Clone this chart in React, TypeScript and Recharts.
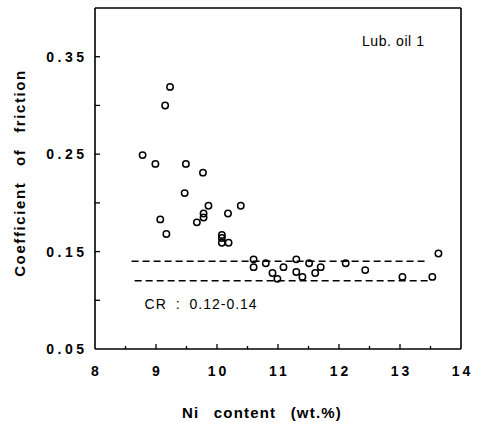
import React from 'react';
import {
  ScatterChart,
  Scatter,
  XAxis,
  YAxis,
  ReferenceLine,
  ReferenceDot,
} from 'recharts';

// Ni content (wt.%) vs coefficient of friction
const niContent = [
  9.23, 9.15, 8.78, 8.99, 9.49, 9.77, 9.47, 9.86, 10.39, 9.78, 10.18, 9.78, 9.67,
  9.07, 9.17, 10.08, 10.08, 10.08, 10.19, 13.63, 10.6, 10.6, 10.8, 10.91, 10.99,
  11.09, 11.3, 11.3, 11.4, 11.51, 11.61, 11.7, 12.11, 12.43, 13.04, 13.53,
];
const friction = [
  0.319, 0.3, 0.249, 0.24, 0.24, 0.231, 0.21, 0.197, 0.197, 0.189, 0.189, 0.185,
  0.18, 0.183, 0.168, 0.167, 0.164, 0.159, 0.159, 0.148, 0.142, 0.134, 0.138,
  0.128, 0.122, 0.134, 0.142, 0.129, 0.124, 0.138, 0.128, 0.134, 0.138, 0.131,
  0.124, 0.124,
];

const xTicks = [8, 8.5, 9, 9.5, 10, 10.5, 11, 11.5, 12, 12.5, 13, 13.5, 14];
const yTicks = [0.05, 0.1, 0.15, 0.2, 0.25, 0.3, 0.35];
const yLabelled = [0.05, 0.15, 0.25, 0.35];

// critical range band (dashed lines)
const crLow = 0.12;
const crHigh = 0.14;
const crFrom = 8.6;
const crTo = 13.48;

const xMax = 14;
const yMax = 0.4;

const points = niContent.map((x, i) => ({ x, y: friction[i] }));

const FONT = '"Liberation Sans", Arial, Helvetica, sans-serif';
const X_MARGIN = 17;
const Y_MARGIN = 11;

const OpenCircle = (props: any) => {
  const { cx, cy } = props;
  if (cx == null || cy == null) return null;
  return <circle cx={cx} cy={cy} r={3.2} fill="none" stroke="#000" strokeWidth={1.5} />;
};

// ticks point into the plot, like the printed figure
const XTick = (props: any) => {
  const { x, y, payload } = props;
  const v = payload.value as number;
  const axisY = y - X_MARGIN;
  const major = Number.isInteger(v);
  return (
    <g>
      {v > 8 && v < 14 && (
        <line x1={x} x2={x} y1={axisY} y2={axisY - (major ? 5 : 3)} stroke="#000" strokeWidth={1.3} />
      )}
      {major && (
        <text
          x={x + 1.5}
          y={y}
          dy="0.71em"
          textAnchor="middle"
          fontFamily={FONT}
          fontWeight={700}
          fontSize={14}
          letterSpacing={3}
          fill="#000"
        >
          {v}
        </text>
      )}
    </g>
  );
};

const YTick = (props: any) => {
  const { x, y, payload } = props;
  const v = payload.value as number;
  const axisX = x + Y_MARGIN;
  const labelled = yLabelled.some((t) => Math.abs(t - v) < 1e-6);
  return (
    <g>
      {v > 0.051 && (
        <line x1={axisX} x2={axisX + 5} y1={y} y2={y} stroke="#000" strokeWidth={1.3} />
      )}
      {labelled && (
        <text
          x={x + 3.5}
          y={y}
          dy="0.36em"
          textAnchor="end"
          fontFamily={FONT}
          fontWeight={700}
          fontSize={14}
          letterSpacing={3.5}
          fill="#000"
        >
          {v.toFixed(2)}
        </text>
      )}
    </g>
  );
};

const YTitle = () => (
  <text
    x={19}
    y={173}
    transform="rotate(-90 19 173)"
    textAnchor="middle"
    dominantBaseline="central"
    fontFamily={FONT}
    fontWeight={700}
    fontSize={15}
    letterSpacing={1.6}
    wordSpacing={10}
    fill="#000"
  >
    Coefficient of friction
  </text>
);

const XTitle = () => (
  <text
    x={262}
    y={412}
    textAnchor="middle"
    dominantBaseline="central"
    fontFamily={FONT}
    fontWeight={700}
    fontSize={15}
    letterSpacing={1.2}
    wordSpacing={9}
    fill="#000"
  >
    Ni content (wt.%)
  </text>
);

export default function App() {
  return (
    <div style={{ position: 'absolute', left: 0, top: 0, background: '#fff' }}>
      <ScatterChart
        width={477}
        height={422}
        margin={{ top: 8, right: 16, bottom: 0, left: 0 }}
      >
        <XAxis
          type="number"
          dataKey="x"
          domain={[8, xMax]}
          ticks={xTicks}
          interval={0}
          height={73}
          axisLine={{ stroke: '#000', strokeWidth: 1.6 }}
          tickLine={false}
          tickSize={0}
          tickMargin={X_MARGIN}
          tick={<XTick />}
          label={{ content: <XTitle /> }}
        />
        <YAxis
          type="number"
          dataKey="y"
          domain={[0.05, yMax]}
          ticks={yTicks}
          interval={0}
          width={95}
          axisLine={{ stroke: '#000', strokeWidth: 1.6 }}
          tickLine={false}
          tickSize={0}
          tickMargin={Y_MARGIN}
          tick={<YTick />}
          label={{ content: <YTitle /> }}
        />
        {/* frame top and right */}
        <ReferenceLine y={yMax} stroke="#000" strokeWidth={1.6} />
        <ReferenceLine x={xMax} stroke="#000" strokeWidth={1.6} />
        <ReferenceLine
          segment={[{ x: crFrom, y: crHigh }, { x: crTo - 0.05, y: crHigh }]}
          stroke="#000"
          strokeWidth={1.5}
          strokeDasharray="7 4"
        />
        <ReferenceLine
          segment={[{ x: crFrom + 0.05, y: crLow }, { x: crTo, y: crLow }]}
          stroke="#000"
          strokeWidth={1.5}
          strokeDasharray="7 4"
        />
        <Scatter data={points} shape={<OpenCircle />} isAnimationActive={false} />
        <ReferenceDot
          x={12.89}
          y={0.366}
          r={0}
          fill="none"
          stroke="none"
          label={{
            value: 'Lub. oil 1',
            position: 'center',
            fill: '#000',
            fontFamily: FONT,
            fontSize: 14,
            letterSpacing: 0.6,
          }}
        />
        <ReferenceDot
          x={9.74}
          y={0.0965}
          r={0}
          fill="none"
          stroke="none"
          label={{
            value: 'CR : 0.12-0.14',
            position: 'center',
            fill: '#000',
            fontFamily: FONT,
            fontSize: 14,
            letterSpacing: 1,
            wordSpacing: 4,
          }}
        />
      </ScatterChart>
    </div>
  );
}
